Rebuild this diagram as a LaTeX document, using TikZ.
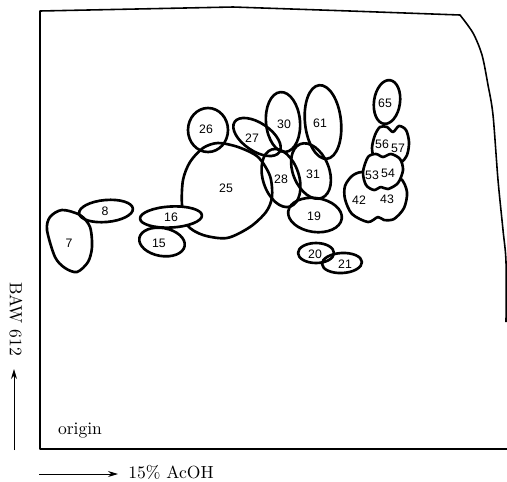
\documentclass[tikz,border=0pt]{standalone}
\usepackage{fontspec}
\setsansfont{Liberation Sans}
\usetikzlibrary{arrows.meta}

\begin{document}
\begin{tikzpicture}[x=0.02cm,y=-0.02cm,>={Stealth[length=2mm,width=1.2mm]},line join=round,
  spot/.style={line width=1.5pt},
  num/.style={font=\sffamily\fontsize{7}{8}\selectfont,inner sep=0pt},
  txt/.style={font=\fontsize{10}{12}\selectfont,inner sep=0pt}]
\useasboundingbox (0,0) rectangle (507,481);
% paper sheet
\draw[line width=0.9pt] plot[smooth] coordinates {(506,322) (506,262) (503,230) (498,180) (493,115) (488,85) (482,55) (473,33) (460,15)}
  -- (350,11) -- (233,7) -- (40,11) -- (40,449) -- (507,449);
% spots
\draw[spot] plot[smooth cycle] coordinates {(62,210) (80,215) (90,227) (92,247) (88,262) (77,272) (65,268) (55,257) (47,230) (50,217)};
\draw[spot,rotate around={5:(106,211)}] (106,211) ellipse (27 and 11);
\draw[spot] plot[smooth cycle] coordinates {(203,148) (218,143) (238,147) (258,157) (270,176) (272,197) (266,212) (250,227) (227,238) (203,235) (187,225) (182,205) (183,180) (190,162)};
\draw[spot,rotate around={-10:(162,242)}] (162,242) ellipse (23 and 14);
\draw[spot,fill=white,rotate around={3:(171,217)}] (171,217) ellipse (31 and 10.5);
\draw[spot] (208,130) ellipse (20 and 22);
\draw[spot,rotate around={-34:(257,137)}] (257,137) ellipse (27 and 14);
\draw[spot,rotate around={5:(283,122)}] (283,122) ellipse (17 and 30);
\draw[spot,rotate around={6:(323,122)}] (323,122) ellipse (18 and 37);
\draw[spot,rotate around={18:(281,178)}] (281,178) ellipse (18 and 30);
\draw[spot,rotate around={22:(311,171)}] (311,171) ellipse (18 and 29);
\draw[spot,rotate around={-8:(315,215)}] (315,215) ellipse (27 and 17);
\draw[spot] (316,253) ellipse (18 and 10);
\draw[spot,rotate around={3:(342,263)}] (342,263) ellipse (20 and 10);
\draw[spot,rotate around={-8:(387,102)}] (387,102) ellipse (13 and 22);
\draw[spot] plot[smooth cycle] coordinates {(352,176) (362,172) (380,175) (400,178) (407,192) (404,208) (394,219) (384,220) (378,217) (368,222) (352,214) (345,199) (345,186)};
\draw[spot] plot[smooth cycle] coordinates {(375,135) (380,127) (387,127) (393,132) (399,126) (406,130) (409,142) (407,155) (400,163) (385,165) (375,160) (372,148)};
\draw[spot,fill=white] plot[smooth cycle] coordinates {(368,157) (376,154) (383,157) (391,154) (400,159) (403,170) (398,183) (388,189) (381,187) (374,190) (366,185) (363,172)};
% spot numbers
\node[num] (n7) at (69,243) {7};
\node[num] (n8) at (105,211) {8};
\node[num] (n15) at (159,243) {15};
\node[num] (n16) at (171,217) {16};
\node[num] (n25) at (226,188) {25};
\node[num] (n26) at (206,129) {26};
\node[num] (n27) at (252,138) {27};
\node[num] (n30) at (284,124) {30};
\node[num] (n61) at (320,123) {61};
\node[num] (n28) at (281,179) {28};
\node[num] (n31) at (313,174) {31};
\node[num] (n19) at (314,216) {19};
\node[num] (n20) at (315,254) {20};
\node[num] (n21) at (345,264) {21};
\node[num] (n65) at (385,103) {65};
\node[num] (n56) at (382,144) {56};
\node[num] (n57) at (398,148) {57};
\node[num] (n53) at (372,175) {53};
\node[num] (n54) at (388,173) {54};
\node[num] (n42) at (359,200) {42};
\node[num] (n43) at (387,199) {43};
% axes
\node[txt] (origin) at (80,431) {origin};
\node[txt,rotate=-90] (baw) at (16,319) {BAW 612};
\coordinate (ya) at (14,450);
\coordinate (yb) at (14,369);
\draw[->,line width=0.5pt] (ya) -- (yb);
\coordinate (xa) at (39,474);
\coordinate (xb) at (118,474);
\draw[->,line width=0.5pt] (xa) -- (xb);
\node[txt,anchor=west] (solv) at (128,472.5) {15\% AcOH};
\end{tikzpicture}
\end{document}
